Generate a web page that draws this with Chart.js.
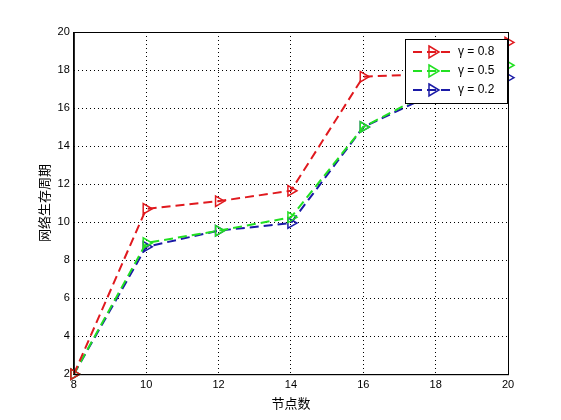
<!DOCTYPE html>
<html><head><meta charset="utf-8">
<script src="https://cdn.jsdelivr.net/npm/chart.js"></script>
<style>body{margin:0;background:#fff}#w{width:561px;height:420px}</style>
</head><body><div id="w"><canvas id="c"></canvas></div>
<script>
const categories=[8,10,12,14,16,18,20];
const g08=[2,10.7,11.1,11.65,17.65,17.8,19.45];
const g05=[2,8.9,9.55,10.25,15.0,17.0,18.25];
const g02=[2,8.7,9.55,9.95,15.0,16.8,17.6];
const yTicks=[2,4,6,8,10,12,14,16,18,20];
function ds(label,data,color){return{label,data:data.map((v,i)=>({x:categories[i],y:v})),borderColor:color,backgroundColor:'rgba(0,0,0,0)',borderWidth:2,borderDash:[9,5],pointStyle:'triangle',rotation:90,pointRadius:6,pointBorderWidth:1.5,tension:0,clip:false};}
const grid={color:'#000',lineWidth:1,drawTicks:false};
const border={color:'#000',dash:[1,3]};
new Chart(document.getElementById('c'),{type:'line',data:{datasets:[ds('γ = 0.8',g08,'#e0191e'),ds('γ = 0.5',g05,'#22e022'),ds('γ = 0.2',g02,'#1a1aa6')]},
options:{responsive:true,maintainAspectRatio:false,animation:false,layout:{padding:{left:34,right:53,top:32,bottom:9}},
plugins:{legend:{display:false},tooltip:{enabled:false}},
scales:{x:{type:'linear',min:8,max:20,afterBuildTicks:a=>{a.ticks=categories.map(v=>({value:v}))},grid,border,ticks:{color:'#000',font:{size:11,family:'Liberation Sans'},padding:4},title:{display:true,text:'节点数',color:'#000',font:{size:13,family:'Noto Sans CJK SC'},padding:0}},
y:{min:2,max:20,afterBuildTicks:a=>{a.ticks=yTicks.map(v=>({value:v}))},grid,border,ticks:{color:'#000',font:{size:11,family:'Liberation Sans'},padding:4},title:{display:true,text:'网络生存周期',color:'#000',font:{size:13,family:'Noto Sans CJK SC'},padding:2}}}},
plugins:[{id:'frame',afterDraw(c){const a=c.chartArea,x=c.ctx;x.save();x.strokeStyle='#000';x.lineWidth=1;x.strokeRect(a.left+.5,a.top+.5,a.right-a.left,a.bottom-a.top);
const lx=a.right-103,ly=a.top+7,w=102,h=64;x.fillStyle='#fff';x.fillRect(lx,ly,w,h);x.strokeRect(lx+.5,ly+.5,w,h);
c.data.datasets.forEach((d,i)=>{const yy=ly+13+i*19;x.strokeStyle=d.borderColor;x.lineWidth=2;x.setLineDash([9,5]);x.beginPath();x.moveTo(lx+8,yy);x.lineTo(lx+50,yy);x.stroke();x.setLineDash([]);x.lineWidth=1.5;x.beginPath();x.moveTo(lx+24,yy-6);x.lineTo(lx+34,yy);x.lineTo(lx+24,yy+6);x.closePath();x.stroke();x.fillStyle='#000';x.font='12px Liberation Sans';x.textBaseline='middle';x.fillText(d.label,lx+53,yy);});x.restore();}}]});
</script></body></html>
